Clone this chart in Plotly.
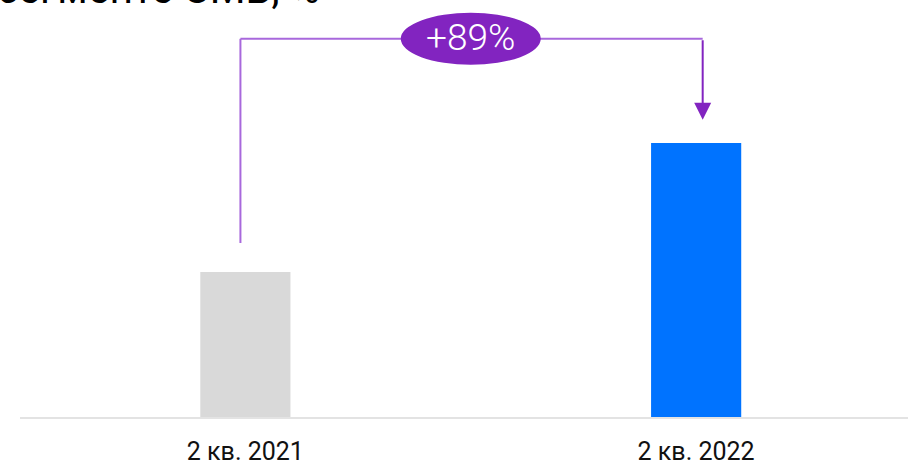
import plotly.graph_objects as go

# Quarterly values (index, 2 кв. 2021 = 100)
quarters = ["2 кв. 2021", "2 кв. 2022"]
values = [100, 189]
bar_colors = ["#d9d9d9", "#0073ff"]

growth = round((values[1] / values[0] - 1) * 100)
growth_label = f"+{growth}%"
title_text = "Доля в сегменте СМБ, %"

purple = "#8224c0"
purple_light = "#a868dc"

fig = go.Figure()
fig.add_trace(go.Bar(
    x=[0, 1], y=values,
    marker=dict(color=bar_colors, line=dict(width=0)),
    width=0.2,
    hoverinfo="skip",
))

y_top = max(values) * 1.38          # level of the bracket
y_left_end = values[0] * 1.20        # where the left leg stops
y_arrow_tip = values[1] + 16         # arrow tip above the second bar
x_left, x_right = -0.011, 1.0145

shapes = [
    dict(type="line", xref="x", yref="y", x0=x_left, x1=x_left, y0=y_left_end, y1=y_top,
         line=dict(color=purple_light, width=2)),
    dict(type="line", xref="x", yref="y", x0=x_left, x1=x_right, y0=y_top, y1=y_top,
         line=dict(color=purple_light, width=2)),
    dict(type="circle", xref="x", yref="y", xsizemode="pixel", ysizemode="pixel",
         xanchor=0.5, yanchor=y_top, x0=-70, x1=70, y0=-26, y1=26,
         fillcolor=purple, line=dict(width=0)),
]

annotations = [
    # arrow down to the second bar
    dict(x=x_right, y=y_arrow_tip, ax=x_right, ay=y_top, xref="x", yref="y",
         axref="x", ayref="y", text="", showarrow=True, arrowhead=2,
         arrowsize=1.7, arrowwidth=2, arrowcolor=purple, standoff=0),
    dict(x=0.5, y=y_top, xref="x", yref="y", text=growth_label, showarrow=False,
         font=dict(family="Roboto", size=37, color="white", weight=300),
         yshift=1),
    dict(x=(322 - 20) / 888, y=1, xref="paper", yref="paper", xanchor="right",
         yanchor="bottom", yshift=-15, text=title_text, showarrow=False,
         font=dict(family="Roboto", size=41, color="#000000")),
]

fig.update_layout(
    width=908, height=465,
    margin=dict(l=20, r=0, t=0, b=48),
    paper_bgcolor="white", plot_bgcolor="white",
    showlegend=False,
    shapes=shapes,
    annotations=annotations,
    xaxis=dict(
        range=[-0.5, 1.47], tickvals=[0, 1], ticktext=quarters,
        showgrid=False, zeroline=False, showline=True, automargin=False,
        linecolor="#e3e3e3", linewidth=2, ticks="",
        tickfont=dict(family="Roboto", size=25, color="#111111"),
        ticklabelstandoff=11,
    ),
    yaxis=dict(range=[0, 417 / 1.45], visible=False, showgrid=False,
               zeroline=False, automargin=False),
)

fig.write_html("out.html")
